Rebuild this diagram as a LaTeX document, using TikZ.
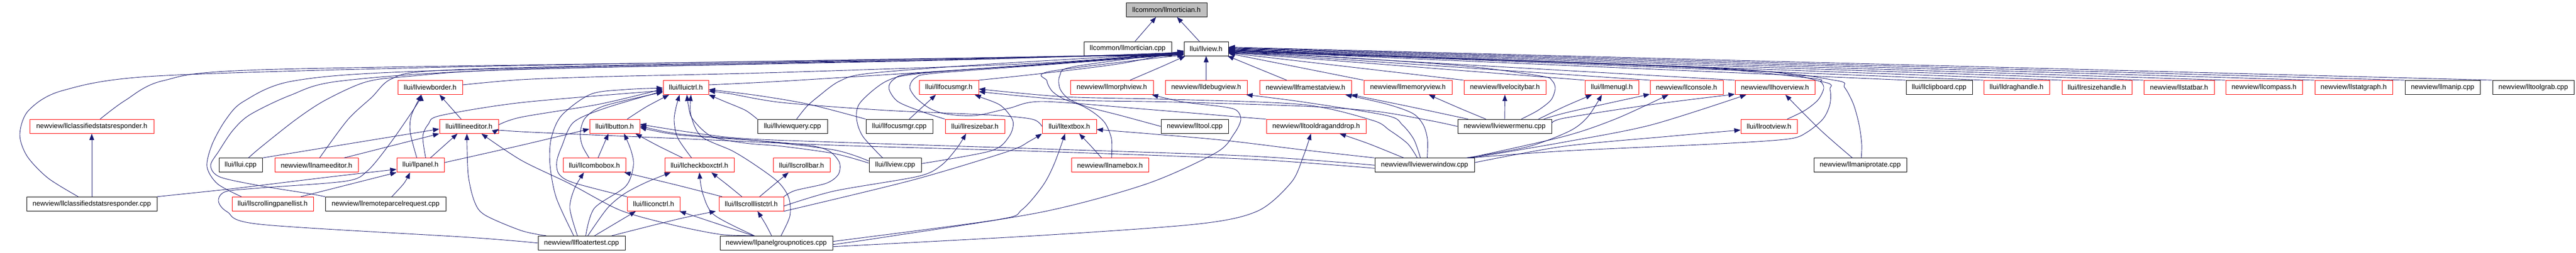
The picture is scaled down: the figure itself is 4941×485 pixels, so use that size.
\documentclass[tikz,border=0pt]{standalone}
\usepackage{fontspec}
\setmainfont{Liberation Sans}
\usetikzlibrary{arrows.meta}
\definecolor{edgeblue}{HTML}{191970}
\definecolor{boxred}{HTML}{FF0000}
\definecolor{rootgray}{HTML}{BFBFBF}
\newcommand{\nodefont}{\fontsize{13.25}{16}\selectfont}
\newcommand{\Nd}[6]{\node[#1, minimum width=#5pt] (#2) at (#3,#4) {#6};}
\newcommand{\pe}[1]{\draw[dep] plot[smooth] coordinates {#1};}
\begin{document}
\begin{tikzpicture}[x=1pt,y=-1pt,
  nb/.style={draw=black, line width=1pt, minimum height=27pt, inner sep=0pt, font=\nodefont, text=black, fill=white},
  nr/.style={nb, draw=boxred},
  ng/.style={nb, fill=rootgray},
  dep/.style={draw=edgeblue, line width=0.9pt, line join=round, -{Triangle[length=12pt,width=9pt]}}]
\fill[white, use as bounding box] (0,0) rectangle (4941,485);

% ---------- nodes ----------
\Nd{ng}{mort}{2237.5}{18.8}{155}{llcommon/llmortician.h}
\Nd{nb}{mortcpp}{2163}{93.5}{168}{llcommon/llmortician.cpp}
\Nd{nb}{view}{2313.5}{93.5}{85}{llui/llview.h}
% row 2
\Nd{nr}{viewborder}{825}{168}{124}{llui/llviewborder.h}
\Nd{nr}{uictrl}{1315.5}{168}{87}{llui/lluictrl.h}
\Nd{nr}{focusmgr}{1820}{168}{114}{llui/llfocusmgr.h}
\Nd{nr}{morphview}{2132.5}{168}{159}{newview/llmorphview.h}
\Nd{nr}{debugview}{2313.5}{168}{157}{newview/lldebugview.h}
\Nd{nr}{framestatview}{2504}{168}{176}{newview/llframestatview.h}
\Nd{nr}{memoryview}{2700.5}{168}{169}{newview/llmemoryview.h}
\Nd{nr}{velocitybar}{2886.5}{168}{157}{newview/llvelocitybar.h}
\Nd{nr}{menugl}{3091.5}{168}{103}{llui/llmenugl.h}
\Nd{nr}{console}{3235}{168}{140}{newview/llconsole.h}
\Nd{nr}{hoverview}{3404.5}{168}{153}{newview/llhoverview.h}
\Nd{nb}{clipboard}{3719.5}{168}{127}{llui/llclipboard.cpp}
\Nd{nr}{draghandle}{3868}{168}{126}{llui/lldraghandle.h}
\Nd{nr}{resizehandle}{4022}{168}{134}{llui/llresizehandle.h}
\Nd{nr}{statbar}{4179.5}{168}{135}{newview/llstatbar.h}
\Nd{nr}{compass}{4342.5}{168}{147}{newview/llcompass.h}
\Nd{nr}{statgraph}{4514.5}{168}{149}{newview/llstatgraph.h}
\Nd{nb}{manip}{4685}{168}{144}{newview/llmanip.cpp}
\Nd{nb}{toolgrab}{4859}{168}{156}{newview/lltoolgrab.cpp}
% row 3
\Nd{nr}{csrh}{176}{242.8}{238}{newview/llclassifiedstatsresponder.h}
\Nd{nr}{lineeditor}{899.5}{242.8}{113}{llui/lllineeditor.h}
\Nd{nr}{button}{1179}{242.8}{96}{llui/llbutton.h}
\Nd{nb}{viewquery}{1520}{242.8}{134}{llui/llviewquery.cpp}
\Nd{nb}{focusmgrcpp}{1725}{242.8}{128}{llui/llfocusmgr.cpp}
\Nd{nr}{resizebar}{1870}{242.8}{114}{llui/llresizebar.h}
\Nd{nr}{textbox}{2051}{242.8}{104}{llui/lltextbox.h}
\Nd{nb}{toolcpp}{2291.5}{242.8}{129}{newview/lltool.cpp}
\Nd{nr}{tooldnd}{2524.5}{242.8}{191}{newview/lltooldraganddrop.h}
\Nd{nb}{viewermenu}{2886}{242.8}{180}{newview/llviewermenu.cpp}
\Nd{nr}{rootview}{3393}{242.8}{108}{llui/llrootview.h}
% row 4
\Nd{nb}{uicpp}{461.5}{317.3}{83}{llui/llui.cpp}
\Nd{nr}{nameeditor}{607}{317.3}{160}{newview/llnameeditor.h}
\Nd{nr}{panel}{806.5}{317.3}{91}{llui/llpanel.h}
\Nd{nr}{combobox}{1140}{317.3}{120}{llui/llcombobox.h}
\Nd{nr}{checkbox}{1341.5}{317.3}{133}{llui/llcheckboxctrl.h}
\Nd{nr}{scrollbar}{1537.5}{317.3}{109}{llui/llscrollbar.h}
\Nd{nb}{viewcpp}{1717}{317.3}{100}{llui/llview.cpp}
\Nd{nr}{namebox}{2129}{317.3}{148}{newview/llnamebox.h}
\Nd{nb}{viewerwindow}{2732.5}{317.3}{191}{newview/llviewerwindow.cpp}
\Nd{nb}{maniprotate}{3568}{317.3}{178}{newview/llmaniprotate.cpp}
% row 5
\Nd{nb}{csrcpp}{176}{391.8}{250}{newview/llclassifiedstatsresponder.cpp}
\Nd{nr}{spl}{523}{391.8}{156}{llui/llscrollingpanellist.h}
\Nd{nb}{rpr}{739.5}{391.8}{231}{newview/llremoteparcelrequest.cpp}
\Nd{nr}{iconctrl}{1253.5}{391.8}{101}{llui/lliconctrl.h}
\Nd{nr}{scrolllist}{1441}{391.8}{124}{llui/llscrolllistctrl.h}
% row 6
\Nd{nb}{floatertest}{1115.5}{466.8}{167}{newview/llfloatertest.cpp}
\Nd{nb}{pgn}{1489}{466.8}{216}{newview/llpanelgroupnotices.cpp}

% ---------- edges ----------
\draw[dep] ([xshift=14pt]mortcpp.north) -- ([xshift=-20pt]mort.south);
\draw[dep] ([xshift=-13pt]view.north) -- ([xshift=20pt]mort.south);

\pe{([xshift=35pt]morphview.north) (2228,128) ([xshift=-40pt]view.south)}
\draw[dep] (debugview.north) -- (view.south);
\pe{([xshift=-36pt]framestatview.north) (2402,127) ([xshift=-2pt]view.south east)}

% right bundle
\foreach \n/\k in {memoryview/-9,velocitybar/-8,menugl/-7,console/-6,hoverview/-5,clipboard/-4,draghandle/-3,resizehandle/-2,statbar/-1,compass/0,statgraph/1,manip/2,toolgrab/3}
  \draw[dep] (\n.north west) -- ([yshift=\k pt]view.east);

\pe{([xshift=32pt]viewermenu.north) (2950,212) (2975,192) (2983,170) (2977,155) (2955,146) (2800,126) (2500,106) ([yshift=-9pt]view.east)}
\pe{([xshift=35pt]rootview.north) (3462,212) (3487,192) (3498,170) (3492,157) (3470,150) (3200,127) ([yshift=-6pt]view.east)}
\pe{([xshift=2pt]maniprotate.north) (3571,278) (3566,240) (3555,200) (3538,168) (3518,154) (3300,132) ([yshift=-4pt]view.east)}
\pe{([xshift=-10pt]viewerwindow.north east) (3000,290) (3300,276) (3430,267) (3466,254) (3497,228) (3510,200) (3510,172) (3495,157) (3300,131) ([yshift=-3pt]view.east)}

\pe{([xshift=-15pt]maniprotate.north) (3492,250) ([xshift=20pt]hoverview.south)}
\pe{([xshift=-40pt]viewerwindow.north) (2625,276) ([xshift=45pt]tooldnd.south)}
\pe{([xshift=5pt]viewerwindow.north) (2738,268) (2730,240) (2710,218) (2660,200) ([xshift=-12pt]framestatview.south east)}
\pe{([xshift=-8pt]viewerwindow.north) (2712,268) (2690,240) (2660,222) (2500,196) ([xshift=-2pt]debugview.south east)}
\pe{([xshift=-14pt]viewerwindow.north) (2700,276) (2665,250) (2632,231) (2500,201) (2250,191) (2043,186) ([yshift=-3pt]focusmgr.east)}
\pe{(viewermenu.west) (2745,232) (2640,214) (2500,204) (2250,196) (2050,192) ([yshift=-8pt]focusmgr.east)}
\pe{([xshift=-70pt]viewermenu.north) (2700,204) ([xshift=-1pt]framestatview.south east)}
\pe{([xshift=-36pt]viewermenu.north) (2800,208) ([xshift=40pt]memoryview.south)}
\draw[dep] (viewermenu.north) -- (velocitybar.south);
\pe{([xshift=65pt]viewermenu.north) (3000,205) ([xshift=-38pt]menugl.south)}
\pe{([xshift=75pt]viewermenu.north) (3010,215) ([yshift=1pt]console.south west)}
\pe{([yshift=5pt]viewermenu.east) (3000,227) (3167,201) ([yshift=1pt]hoverview.south west)}
\pe{([xshift=80pt]viewerwindow.north) (2930,282) (3010,252) (3045,225) ([xshift=-19pt]menugl.south)}
\pe{([xshift=85pt]viewerwindow.north) (3000,262) (3100,228) ([xshift=-35pt]console.south)}
\pe{([xshift=90pt]viewerwindow.north) (3000,273) (3167,240) ([xshift=-55pt]hoverview.south)}
\pe{([yshift=5pt]viewerwindow.east) (3000,281) (3200,262) ([yshift=-7pt]rootview.west)}
\pe{(viewerwindow.north west) (2500,288) (2333,268) ([yshift=-6pt]textbox.east)}
\pe{([yshift=-6pt]viewerwindow.west) (2400,306) (2000,291) (1600,279) (1300,266) (1000,253) ([yshift=-5pt]lineeditor.east)}
\pe{(viewerwindow.west) (2400,300) (2000,286) (1600,273) (1400,264) ([yshift=4pt]button.east)}

% panelgroupnotices to the right
\pe{([yshift=-3pt]pgn.east) (1700,455) (2000,407) (2200,353) (2333,293) (2367,257) (2380,230) (2372,212) (2345,205) (2270,196) ([xshift=-3pt]morphview.south east)}
\pe{([yshift=-7pt]pgn.east) (2000,452) (2300,430) (2413,405) (2477,350) (2500,300) ([xshift=-10pt]tooldnd.south)}
\pe{([yshift=3pt]pgn.east) (1913,422) (1960,403) (2000,357) (2022,315) ([xshift=-8pt]textbox.south)}
\pe{([xshift=-16pt]namebox.north) (2092,280) ([xshift=19pt]textbox.south)}

% left bundle into llview.h
\pe{([xshift=-26pt]csrcpp.north) (92,342) (52,300) (38,258) (55,212) (120,174) (300,146) (900,128) (1700,114) ([yshift=2pt]view.south west)}
\pe{([xshift=16pt]csrh.north) (240,193) (313,155) (500,134) (1400,119) ([yshift=3pt]view.south west)}
\pe{([xshift=-60pt]spl.north) (417,353) (397,320) (407,277) (433,230) (467,195) (560,156) (800,137) (1600,117) ([yshift=4pt]view.south west)}
\pe{(rpr.north west) (593,372) (500,357) (422,340) (404,318) (420,290) (447,250) (480,220) (557,183) (650,156) (950,135) (1700,117) ([yshift=5pt]view.south west)}
\pe{([xshift=15pt]uicpp.north) (500,283) (567,230) (623,193) (700,158) (780,147) (1000,133) (1800,116) ([yshift=6pt]view.south west)}
\pe{([xshift=6pt]nameeditor.north) (667,230) (713,187) (750,152) (830,136) (1200,125) (1900,113) ([yshift=7pt]view.south west)}
\pe{([yshift=5pt]viewborder.east) (1000,153) (1167,147) (1500,139) (2000,121) ([yshift=8pt]view.south west)}
\pe{([yshift=5pt]uictrl.east) (1500,156) (1800,137) (2100,116) ([yshift=9pt]view.south west)}
\pe{(focusmgr.north east) (2000,141) (2150,122) ([yshift=10pt]view.south west)}
\pe{([xshift=8pt]viewquery.north) (1547,205) (1570,185) (1610,156) (1667,141) (1900,123) ([yshift=6pt]view.south west)}
\pe{([xshift=-24pt]viewcpp.north) (1655,262) (1643,228) (1650,197) (1700,156) (1767,141) (2000,123) ([yshift=5pt]view.south west)}
\pe{(resizebar.north west) (1767,214) (1722,195) (1705,170) (1715,152) (1755,141) (2000,124) ([yshift=4pt]view.south west)}
\pe{(tooldnd.north west) (2380,225) (2200,210) (2000,195) (1935,208) (1870,222) (1815,219) (1783,208) (1757,188) (1745,168) (1755,150) (1790,141) (2000,125) ([yshift=3pt]view.south west)}
\pe{([xshift=3pt]namebox.north) (2132,267) (2120,237) (2100,218) (2075,203) (2040,190) (2018,175) (2008,155) (2015,137) ([yshift=2pt]view.south west)}
\pe{(toolcpp.west) (2150,222) (2085,205) (2050,190) (2033,170) (2033,145) (2060,128) ([yshift=8pt]view.south west)}

% left region
\draw[dep] (csrcpp.north) -- (csrh.south);
\pe{(csrcpp.north east) (433,364) (500,356) (640,339) ([yshift=-8pt]panel.west)}
\pe{(floatertest.west) (900,456) (500,431) (436,407) (419,386) (433,368) (500,361) (663,348) (705,328) (750,273) (800,200) ([xshift=-17pt]viewborder.south)}
\draw[dep] (uicpp.north east) -- ([yshift=-5pt]lineeditor.west);
\draw[dep] ([xshift=53pt]nameeditor.north) -- (lineeditor.south west);
\pe{([xshift=-7pt]panel.north) (787,255) (789,222) ([xshift=-17pt]viewborder.south)}
\draw[dep] ([xshift=19pt]panel.north) -- ([xshift=-22pt]lineeditor.south);
\pe{([xshift=10pt]panel.north) (811,262) (822,238) (845,222) (1000,197) ([yshift=-6pt]uictrl.west)}
\pe{([yshift=5pt]panel.east) (1000,279) ([yshift=-5pt]button.west)}
\draw[dep] ([xshift=-15pt]lineeditor.north) -- ([xshift=18pt]viewborder.south);
\pe{([yshift=3pt]lineeditor.east) (1000,225) (1150,200) ([yshift=-3pt]uictrl.west)}
\pe{([xshift=12pt]rpr.north) (775,352) ([xshift=-20pt]panel.south)}
\draw[dep] ([xshift=54pt]spl.north) -- (panel.south west);

% floatertest
\pe{([xshift=-68pt]floatertest.north) (1000,443) (930,413) (910,387) (898,335) ([xshift=-4pt]lineeditor.south)}
\pe{([xshift=-46pt]pgn.north) (1380,450) (1290,432) (1190,404) (1093,353) (1000,308) ([xshift=24pt]lineeditor.south)}
\pe{([xshift=8pt]floatertest.north) (1140,400) (1200,358) (1215,318) (1210,288) ([xshift=18pt]button.south)}
\pe{([xshift=-8pt]floatertest.north) (1093,400) (1102,362) ([xshift=-20pt]combobox.south)}
\pe{([xshift=12pt]floatertest.north) (1165,400) (1198,372) (1240,350) ([xshift=-55pt]checkbox.south)}
\draw[dep] ([xshift=25pt]floatertest.north) -- ([xshift=-34pt]iconctrl.south);
\pe{([xshift=58pt]floatertest.north) (1300,421) ([xshift=-68pt]scrolllist.south)}
\pe{([xshift=-15pt]floatertest.north) (1067,380) (1055,317) (1057,267) (1077,222) (1133,181) (1200,172) ([yshift=-1pt]uictrl.west)}

% controls
\pe{([xshift=-10pt]combobox.north) (1117,280) (1113,255) (1123,226) (1160,203) ([yshift=-9pt]uictrl.west)}
\draw[dep] ([xshift=7pt]combobox.north) -- ([xshift=-12pt]button.south);
\pe{(iconctrl.north west) (1100,351) (1072,334) (1068,310) (1078,280) (1100,235) (1160,208) ([yshift=-7pt]uictrl.west)}
\pe{([xshift=24pt]button.north) (1240,205) ([xshift=-32pt]uictrl.south)}
\pe{([xshift=-15pt]checkbox.north) (1300,265) (1293,232) (1297,205) ([xshift=-12pt]uictrl.south)}
\pe{([xshift=-32pt]checkbox.north) (1262,280) ([xshift=40pt]button.south)}
\pe{(viewquery.north west) (1430,212) (1390,195) (uictrl.south east)}
\pe{(focusmgrcpp.north west) (1550,200) (1450,183) ([yshift=-4pt]uictrl.east)}
\pe{([yshift=4pt]viewcpp.west) (1600,295) (1500,281) (1430,275) (1365,262) (1328,228) (1320,200) ([xshift=2pt]uictrl.south)}
\pe{([yshift=8pt]viewcpp.west) (1600,288) (1450,270) (1300,257) ([yshift=1pt]button.east)}
\pe{([yshift=3pt]viewcpp.east) (1900,290) (1935,263) (1943,233) (1920,203) (1882,187) ([xshift=-8pt]focusmgr.south east)}
\draw[dep] ([xshift=19pt]focusmgrcpp.north) -- ([xshift=-25pt]focusmgr.south);
\pe{(textbox.west) (1980,229) (1900,221) (1700,212) (1500,197) (1400,180) ([yshift=-7pt]uictrl.east)}

% scrolllistctrl
\pe{([xshift=-56pt]scrolllist.north) (1300,356) ([xshift=-3pt]combobox.south east)}
\pe{([xshift=-18pt]scrolllist.north) (1395,355) ([xshift=23pt]checkbox.south)}
\draw[dep] ([xshift=16pt]scrolllist.north) -- ([xshift=-25pt]scrollbar.south);
\pe{(scrolllist.north east) (1525,366) (1585,352) (1608,335) (1610,312) (1590,290) (1550,279) (1450,270) (1300,259) ([yshift=-2pt]button.east)}
\pe{([yshift=-4pt]scrolllist.east) (1600,367) (1760,339) (1805,318) (1835,285) ([xshift=-17pt]resizebar.south)}
\pe{(scrolllist.south east) (1750,346) (1933,291) (1975,271) (textbox.south west)}

% panelgroupnotices up
\pe{([xshift=-42pt]pgn.north) (1370,413) (1348,372) (checkbox.south)}
\draw[dep] ([xshift=-44pt]pgn.north) -- ([xshift=50pt]iconctrl.south);
\pe{([xshift=-9pt]pgn.north) (1468,430) ([xshift=12pt]scrolllist.south)}
\pe{([xshift=9pt]pgn.north) (1515,415) (1513,380) (1493,350) (1450,318) (1405,290) (1345,262) (1325,220) ([xshift=10pt]uictrl.south)}
\end{tikzpicture}
\end{document}
